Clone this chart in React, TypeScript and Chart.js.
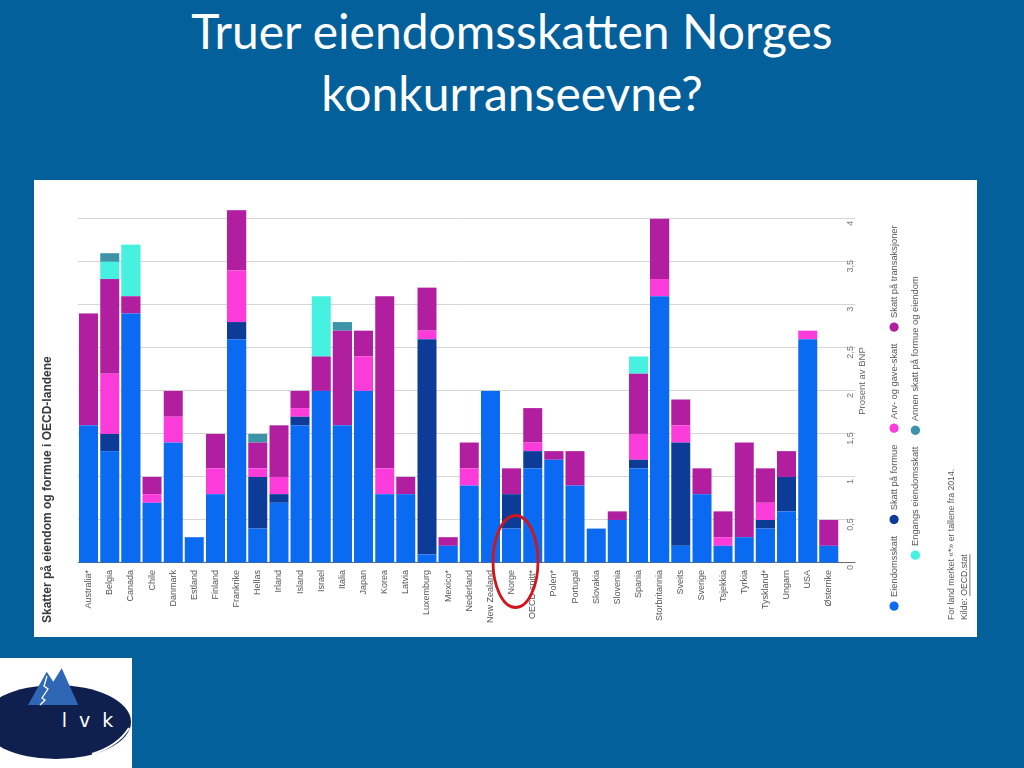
import React, { useEffect, useRef } from "react";
import { Chart, registerables } from "chart.js";

Chart.register(...registerables);

const slideTitle = ["Truer eiendomsskatten Norges", "konkurranseevne?"];
const chartTitle = "Skatter på eiendom og formue i OECD-landene";
const axisTitle = "Prosent av BNP";
const footnote = "For land merket «*» er tallene fra 2014.";
const sourcePrefix = "Kilde: ";
const sourceName = "OECD.stat";

const categories = [
  "Australia*", "Belgia", "Canada", "Chile", "Danmark", "Estland", "Finland", "Frankrike",
  "Hellas", "Irland", "Island", "Israel", "Italia", "Japan", "Korea", "Latvia", "Luxemburg",
  "Mexico*", "Nederland", "New Zealand", "Norge", "OECD-snitt*", "Polen*", "Portugal",
  "Slovakia", "Slovenia", "Spania", "Storbritannia", "Sveits", "Sverige", "Tsjekkia",
  "Tyrkia", "Tyskland*", "Ungarn", "USA", "Østerrike",
];

const eiendomsskatt = [1.6, 1.3, 2.9, 0.7, 1.4, 0.3, 0.8, 2.6, 0.4, 0.7, 1.6, 2.0, 1.6, 2.0, 0.8, 0.8, 0.1, 0.2, 0.9, 2.0, 0.4, 1.1, 1.2, 0.9, 0.4, 0.5, 1.1, 3.1, 0.2, 0.8, 0.2, 0.3, 0.4, 0.6, 2.6, 0.2];
const skattPaFormue = [0, 0.2, 0, 0, 0, 0, 0, 0.2, 0.6, 0.1, 0.1, 0, 0, 0, 0, 0, 2.5, 0, 0, 0, 0.4, 0.2, 0, 0, 0, 0, 0.1, 0, 1.2, 0, 0, 0, 0.1, 0.4, 0, 0];
const arvOgGaveskatt = [0, 0.7, 0, 0.1, 0.3, 0, 0.3, 0.6, 0.1, 0.2, 0.1, 0, 0, 0.4, 0.3, 0, 0.1, 0, 0.2, 0, 0, 0.1, 0, 0, 0, 0, 0.3, 0.2, 0.2, 0, 0.1, 0, 0.2, 0, 0.1, 0];
const skattPaTransaksjoner = [1.3, 1.1, 0.2, 0.2, 0.3, 0, 0.4, 0.7, 0.3, 0.6, 0.2, 0.4, 1.1, 0.3, 2.0, 0.2, 0.5, 0.1, 0.3, 0, 0.3, 0.4, 0.1, 0.4, 0, 0.1, 0.7, 0.7, 0.3, 0.3, 0.3, 1.1, 0.4, 0.3, 0, 0.3];
const engangsEiendomsskatt = [0, 0.2, 0.6, 0, 0, 0, 0, 0, 0, 0, 0, 0.7, 0, 0, 0, 0, 0, 0, 0, 0, 0, 0, 0, 0, 0, 0, 0.2, 0, 0, 0, 0, 0, 0, 0, 0, 0];
const annenSkatt = [0, 0.1, 0, 0, 0, 0, 0, 0, 0.1, 0, 0, 0, 0.1, 0, 0, 0, 0, 0, 0, 0, 0, 0, 0, 0, 0, 0, 0, 0, 0, 0, 0, 0, 0, 0, 0, 0];

const seriesNames = [
  "Eiendomsskatt",
  "Skatt på formue",
  "Arv- og gave-skatt",
  "Skatt på transaksjoner",
  "Engangs eiendomsskatt",
  "Annen skatt på formue og eiendom",
];
const seriesValues = [eiendomsskatt, skattPaFormue, arvOgGaveskatt, skattPaTransaksjoner, engangsEiendomsskatt, annenSkatt];
const seriesColors = ["#0b6af2", "#0d3c98", "#fc3cda", "#b11ea0", "#46f1df", "#3d94a8"];

const valueMax = 4.23;
const valueStep = 0.5;

const FONT = '"Liberation Sans", Arial, sans-serif';

const textPlugin = {
  id: "slideTexts",
  afterDraw(chart: any) {
    const ctx = chart.ctx;
    ctx.save();
    ctx.textAlign = "left";
    ctx.textBaseline = "middle";
    ctx.fillStyle = "#3a3a3a";
    ctx.font = `bold 12px ${FONT}`;
    ctx.fillText(chartTitle, 14, 14);
    ctx.fillStyle = "#555";
    ctx.font = `8.7px ${FONT}`;
    ctx.fillText(footnote, 17, 918);
    ctx.fillText(sourcePrefix, 17, 931);
    const w = ctx.measureText(sourcePrefix).width;
    ctx.fillText(sourceName, 17 + w, 931);
    const lw = ctx.measureText(sourceName).width;
    ctx.fillRect(17 + w, 935.5, lw, 0.8);
    ctx.restore();
  },
};

export default function App() {
  const ref = useRef<HTMLCanvasElement>(null);

  useEffect(() => {
    if (!ref.current) return;
    const chart = new Chart(ref.current, {
      type: "bar",
      data: {
        labels: categories,
        datasets: seriesNames.map((name, i) => ({
          label: name,
          data: seriesValues[i],
          backgroundColor: seriesColors[i],
          borderWidth: 0,
          barPercentage: 0.9,
          categoryPercentage: 1,
        })),
      },
      options: {
        indexAxis: "y",
        animation: false,
        responsive: false,
        devicePixelRatio: 1,
        layout: { padding: { top: 44, left: 0, right: 19, bottom: 47 } },
        plugins: {
          title: { display: false },
          tooltip: { enabled: false },
          legend: {
            position: "bottom",
            align: "center",
            labels: {
              usePointStyle: true,
              pointStyle: "circle",
              boxWidth: 9,
              boxHeight: 6.6,
              padding: 12,
              color: "#555",
              font: { size: 9.3, family: FONT },
            },
          },
        },
        scales: {
          y: {
            type: "category",
            position: "left",
            stacked: true,
            grid: { display: false, drawTicks: false },
            border: { display: false },
            ticks: {
              autoSkip: false,
              padding: 7,
              color: "#555",
              font: { size: 9, family: FONT },
            },
            afterFit: (s: any) => {
              s.width = 74;
            },
          },
          x: {
            type: "linear",
            position: "bottom",
            stacked: true,
            min: 0,
            max: valueMax,
            border: { display: false },
            grid: {
              color: (c: any) => (c.tick && c.tick.value === 0 ? "#6a6a6a" : "#d6d6d6"),
              lineWidth: 1,
              tickLength: 16,
            },
            ticks: {
              stepSize: valueStep,
              includeBounds: false,
              padding: -10,
              labelOffset: -4.5,
              color: "#777",
              font: { size: 9, family: FONT },
              callback: (v: any) => String(v).replace(".", ","),
            },
            title: {
              display: true,
              text: axisTitle,
              color: "#666",
              font: { size: 9.5, family: FONT },
              padding: { top: 0, bottom: 9.3 },
            },
            afterBuildTicks: (s: any) => {
              s.ticks = s.ticks.filter(
                (t: any) => Math.abs(t.value / valueStep - Math.round(t.value / valueStep)) < 1e-6
              );
            },
            afterFit: (s: any) => {
              s.height = 38;
            },
          },
        },
      },
      plugins: [textPlugin],
    } as any);
    return () => chart.destroy();
  }, []);

  return (
    <div
      style={{
        position: "absolute",
        left: 0,
        top: 0,
        width: 1024,
        height: 768,
        overflow: "hidden",
        background: "#04609a",
      }}
    >
      <div
        style={{
          position: "absolute",
          left: 0,
          top: 0,
          width: 1024,
          textAlign: "center",
          color: "#ffffff",
          fontFamily: "Lato, 'Open Sans', sans-serif",
          fontSize: 48,
          lineHeight: "62px",
        }}
      >
        {slideTitle[0]}
        <br />
        {slideTitle[1]}
      </div>

      <div style={{ position: "absolute", left: 34, top: 180, width: 943, height: 457, background: "#ffffff" }} />

      <div
        style={{
          position: "absolute",
          left: 34,
          top: 180,
          width: 457,
          height: 943,
          transformOrigin: "0 0",
          transform: "translate(0px, 457px) rotate(-90deg)",
        }}
      >
        <canvas ref={ref} width={457} height={943} style={{ display: "block" }} />
      </div>

      <svg
        width={1024}
        height={768}
        style={{ position: "absolute", left: 0, top: 0, pointerEvents: "none" }}
      >
        <ellipse cx={515.5} cy={561.5} rx={22.5} ry={46} fill="none" stroke="#d3141c" strokeWidth={2.8} />
        <g transform="translate(0,658)">
          <rect x={0} y={0} width={132} height={110} fill="#ffffff" />
          <ellipse cx={56} cy={64} rx={75} ry={37} fill="#0f1f4e" />
          <path d="M92 96 Q118 88 129 70" fill="none" stroke="#ffffff" strokeWidth={2} />
          <polygon points="28,47 46.7,13.7 53.3,23.7 61.7,10.3 78.3,47" fill="#2f67b5" />
          <polyline points="47,18 44,28 48,31 42,40 45,42 40,47" fill="none" stroke="#ffffff" strokeWidth={1.3} />
          <text
            x={89}
            y={69}
            textAnchor="middle"
            fill="#ffffff"
            fontFamily="'DejaVu Sans', sans-serif"
            fontSize={19}
            letterSpacing={3}
          >
            l v k
          </text>
        </g>
      </svg>
    </div>
  );
}
